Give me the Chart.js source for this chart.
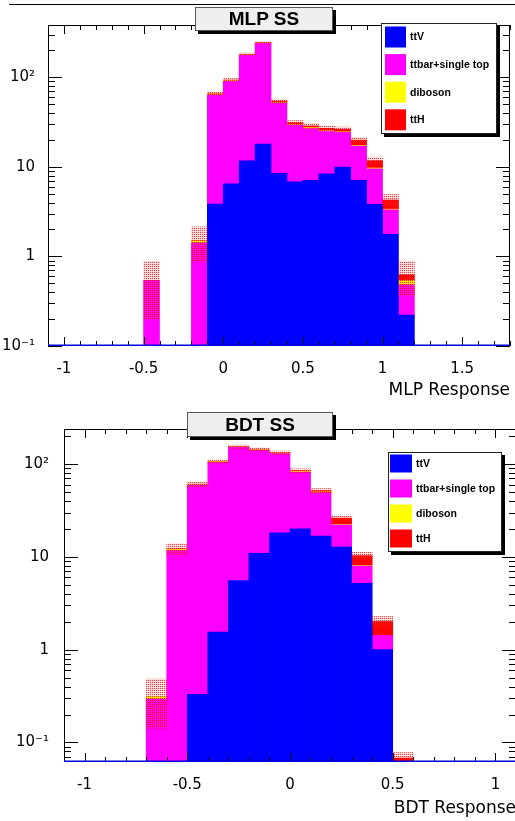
<!DOCTYPE html>
<html>
<head>
<meta charset="utf-8">
<title>MLP SS / BDT SS</title>
<script src="https://cdn.jsdelivr.net/npm/chart.js@4.4.1/dist/chart.umd.min.js"></script>
<style>
  html, body { margin: 0; padding: 0; background: #fff; width: 515px; height: 821px; overflow: hidden; }
  canvas { position: absolute; left: 0; }
  .topline { position: absolute; left: 9px; top: 4px; width: 506px; height: 1px; background: #000; }
  .ptitle {
    position: absolute; box-sizing: border-box;
    background: #efefef; border: 1px solid #555; box-shadow: 3px 3px 0 #000;
    font: bold 19px "Liberation Sans", Arial, sans-serif; color: #000; text-align: center;
  }
</style>
</head>
<body>
<div class="topline"></div>
<canvas id="mlpChart" width="515" height="410" style="top:0; width:515px; height:410px"></canvas>
<canvas id="bdtChart" width="520" height="411" style="top:410px; width:520px; height:411px"></canvas>
<div class="ptitle" style="left:195px; top:7px; width:138px; height:24px; line-height:22px;">MLP SS</div>
<div class="ptitle" style="left:187px; top:412px; width:146px; height:25px; line-height:23px;">BDT SS</div>

<script>
// ---- MLP response, bins of 0.1 (x = bin centre) ----
const mlpBins    = [-0.45, -0.35, -0.25, -0.15, -0.05, 0.05, 0.15, 0.25, 0.35, 0.45, 0.55, 0.65, 0.75, 0.85, 0.95, 1.05, 1.15];
const mlpTtV     = [0, 0, 0, 0, 3.84, 6.47, 11.7, 18.0, 8.45, 6.8, 7.06, 8.37, 9.94, 7.06, 3.81, 1.77, 0.221];
const mlpTtbar   = [0.54, 0, 0, 1.42, 60.0, 84.0, 165, 221, 43.0, 22.5, 19.8, 16.5, 14.3, 10.0, 5.7, 1.55, 0.261];
const mlpDiboson = [0, 0, 0, 0.08, 1.5, 1.8, 2.5, 2.5, 1.2, 0.6, 0.6, 0.6, 0.4, 0.25, 0.2, 0.05, 0.056];
const mlpTtH     = [0, 0, 0, 0.01, 0.7, 1.0, 1.5, 2.0, 1.5, 1.2, 1.2, 1.5, 1.6, 2.6, 2.0, 0.9, 0.086];
const mlpErr     = [0.34, 0, 0, 0.63, 3, 4, 6, 8, 2.8, 1.8, 1.7, 1.7, 1.6, 1.4, 1.1, 0.65, 0.26];

// ---- BDT response ----
const bdtBins    = [-0.65, -0.55, -0.45, -0.35, -0.25, -0.15, -0.05, 0.05, 0.15, 0.25, 0.35, 0.45, 0.55];
const bdtTtV     = [0, 0, 0.331, 1.55, 5.56, 10.9, 18.1, 20.0, 16.7, 12.7, 5.17, 1.0, 0];
const bdtTtbar   = [0.293, 11.7, 59.0, 102.5, 145.5, 130.5, 111.5, 62.0, 32.5, 9.4, 2.8, 0.42, 0];
const bdtDiboson = [0.02, 0.3, 0.8, 1.2, 1.5, 1.5, 1.4, 1.2, 0.8, 0.3, 0.09, 0, 0];
const bdtTtH     = [0, 0.2, 0.4, 0.6, 0.9, 1.0, 1.3, 1.5, 1.6, 3.7, 2.24, 0.59, 0.068];
const bdtErr     = [0.17, 1.6, 3.5, 5, 6, 6, 5.5, 4, 2.8, 1.6, 0.9, 0.27, 0.01];

// ---- axes ----
const mlpXTicks  = [-1, -0.5, 0, 0.5, 1, 1.5];
const mlpXLabels = ['-1', '-0.5', '0', '0.5', '1', '1.5'];
const bdtXTicks  = [-1, -0.5, 0, 0.5, 1];
const bdtXLabels = ['-1', '-0.5', '0', '0.5', '1'];
const yTicks     = [0.1, 1, 10, 100];
const yLabels    = ['10\u207B\u00B9', '1', '10', '10\u00B2'];

const sampleNames  = ['ttV', 'ttbar+single top', 'diboson', 'ttH'];
const sampleColors = ['#0000ff', '#ff00ff', '#ffff00', '#ff0000'];

// sparse red dots for the uncertainty band
function dotPattern() {
    const c = document.createElement('canvas');
    c.width = 2; c.height = 2;
    const g = c.getContext('2d');
    g.fillStyle = 'rgba(255,60,60,0.18)';
    g.fillRect(0, 0, 2, 2);
    g.clearRect(0, 0, 1, 1);
    g.fillStyle = 'rgba(240,0,0,0.8)';
    g.fillRect(0, 0, 1, 1);
    return g.createPattern(c, 'repeat');
}

// stack the samples by hand as floating bars, band on top
function buildDatasets(bins, parts, err, floor) {
    const cum = bins.map(() => 0);
    const sets = parts.map((values, k) => {
        const data = bins.map((x, i) => {
            const lo = cum[i];
            cum[i] += values[i];
            if (values[i] <= 0) return { x, y: null };
            return { x, y: [Math.max(lo, floor), cum[i]] };
        });
        return {
            label: sampleNames[k],
            data,
            backgroundColor: sampleColors[k],
            borderWidth: 0,
            grouped: false,
            barPercentage: 1,
            categoryPercentage: 1,
            order: 1
        };
    });
    sets.push({
        label: '',
        isBand: true,
        data: bins.map((x, i) => cum[i] > 0
            ? { x, y: [Math.max(cum[i] - err[i], floor), cum[i] + err[i]] }
            : { x, y: null }),
        backgroundColor: dotPattern(),
        borderWidth: 0,
        grouped: false,
        barPercentage: 1,
        categoryPercentage: 1,
        order: 0
    });
    return sets;
}

// frame, inward ticks on all four sides, blue zero line, boxed legend
const rootFrame = {
    id: 'rootFrame',
    afterDatasetsDraw(chart) {
        const { ctx, chartArea: a, scales: { x, y } } = chart;
        ctx.save();
        ctx.strokeStyle = '#000';
        ctx.lineWidth = 1;
        ctx.beginPath();
        for (let k = Math.ceil(x.min * 10 - 1e-6); k <= Math.floor(x.max * 10 + 1e-6); k++) {
            const px = Math.round(x.getPixelForValue(k / 10)) + 0.5;
            const len = k % 5 === 0 ? 9 : 5;
            ctx.moveTo(px, a.bottom); ctx.lineTo(px, a.bottom - len);
            ctx.moveTo(px, a.top); ctx.lineTo(px, a.top + len);
        }
        const d0 = Math.floor(Math.log10(y.min)), d1 = Math.ceil(Math.log10(y.max));
        for (let d = d0; d <= d1; d++) {
            for (let m = 1; m <= 9; m++) {
                const v = m * Math.pow(10, d);
                if (v < y.min || v > y.max) continue;
                const py = Math.round(y.getPixelForValue(v)) + 0.5;
                const len = m === 1 ? 14 : 7;
                ctx.moveTo(a.left, py); ctx.lineTo(a.left + len, py);
                ctx.moveTo(a.right, py); ctx.lineTo(a.right - len, py);
            }
        }
        ctx.stroke();
        ctx.strokeRect(a.left + 0.5, a.top + 0.5, a.right - a.left - 1, a.bottom - a.top - 1);
        ctx.strokeStyle = '#0000dd';
        ctx.lineWidth = 1.5;
        ctx.beginPath();
        ctx.moveTo(a.left, a.bottom - 0.75);
        ctx.lineTo(a.right, a.bottom - 0.75);
        ctx.stroke();
        ctx.restore();
    },
    afterDraw(chart, args, opts) {
        const { ctx } = chart;
        ctx.save();
        ctx.fillStyle = '#000';
        ctx.fillRect(opts.x + 3, opts.y + 3, opts.w, opts.h);
        ctx.fillStyle = '#fff';
        ctx.fillRect(opts.x, opts.y, opts.w, opts.h);
        ctx.strokeStyle = '#222';
        ctx.lineWidth = 1;
        ctx.strokeRect(opts.x + 0.5, opts.y + 0.5, opts.w - 1, opts.h - 1);
        ctx.font = 'bold 10.5px "Liberation Sans", Arial, sans-serif';
        ctx.textBaseline = 'middle';
        const items = chart.data.datasets.filter(ds => !ds.isBand);
        items.forEach((ds, i) => {
            const cy = opts.row0 + i * opts.rowStep;
            ctx.fillStyle = ds.backgroundColor;
            ctx.fillRect(opts.swX, cy - opts.swH / 2, opts.swW, opts.swH);
            ctx.fillStyle = '#000';
            ctx.fillText(ds.label, opts.textX, cy + 0.5);
        });
        ctx.restore();
    }
};

function makeChart(id, cfg) {
    return new Chart(document.getElementById(id), {
        type: 'bar',
        data: { datasets: buildDatasets(cfg.bins, cfg.parts, cfg.err, cfg.yMin) },
        options: {
            responsive: false,
            animation: false,
            devicePixelRatio: 1,
            layout: { padding: cfg.padding },
            plugins: {
                legend: { display: false },
                tooltip: { enabled: false },
                rootFrame: cfg.legend
            },
            scales: {
                x: {
                    type: 'linear',
                    min: cfg.xMin,
                    max: cfg.xMax,
                    offset: false,
                    grid: { display: false },
                    border: { display: false },
                    afterBuildTicks: s => { s.ticks = cfg.xTicks.map(v => ({ value: v })); },
                    afterFit: s => { s.height = cfg.xHeight; },
                    ticks: {
                        autoSkip: false,
                        maxRotation: 0,
                        padding: cfg.xTickPad,
                        color: '#000',
                        font: { family: 'DejaVu Sans', size: 15 },
                        callback: v => cfg.xLabels[cfg.xTicks.indexOf(v)]
                    },
                    title: {
                        display: true,
                        text: cfg.xTitle,
                        align: 'end',
                        color: '#000',
                        font: { family: 'DejaVu Sans', size: 17 },
                        padding: { top: 0, bottom: cfg.titlePad }
                    }
                },
                y: {
                    type: 'logarithmic',
                    min: cfg.yMin,
                    max: cfg.yMax,
                    grid: { display: false },
                    border: { display: false },
                    afterBuildTicks: s => { s.ticks = yTicks.map(v => ({ value: v })); },
                    afterFit: s => { s.width = cfg.yWidth; },
                    ticks: {
                        autoSkip: false,
                        padding: cfg.yTickPad,
                        color: '#000',
                        font: { family: 'DejaVu Sans', size: 15 },
                        callback: v => yLabels[yTicks.indexOf(v)]
                    }
                }
            }
        },
        plugins: [rootFrame]
    });
}

makeChart('mlpChart', {
    bins: mlpBins,
    parts: [mlpTtV, mlpTtbar, mlpDiboson, mlpTtH],
    err: mlpErr,
    xMin: -1.1, xMax: 1.8, yMin: 0.1, yMax: 384,
    xTicks: mlpXTicks, xLabels: mlpXLabels, xTitle: 'MLP Response',
    padding: { top: 25, right: 5, left: 0, bottom: 0 },
    xHeight: 64, yWidth: 48, xTickPad: 6, yTickPad: 5, titlePad: 9,
    legend: { x: 381, y: 23, w: 116, h: 111, swX: 385, swW: 21, swH: 21, row0: 37, rowStep: 27.6, textX: 410 }
});

makeChart('bdtChart', {
    bins: bdtBins,
    parts: [bdtTtV, bdtTtbar, bdtDiboson, bdtTtH],
    err: bdtErr,
    xMin: -1.1, xMax: 1.1, yMin: 0.0616, yMax: 238,
    xTicks: bdtXTicks, xLabels: bdtXLabels, xTitle: 'BDT Response',
    padding: { top: 19, right: 4, left: 0, bottom: 0 },
    xHeight: 59, yWidth: 64, xTickPad: 6, yTickPad: 7, titlePad: 2,
    legend: { x: 388, y: 42, w: 114, h: 100, swX: 390, swW: 22, swH: 18, row0: 53.5, rowStep: 25, textX: 416 }
});
</script>
</body>
</html>
